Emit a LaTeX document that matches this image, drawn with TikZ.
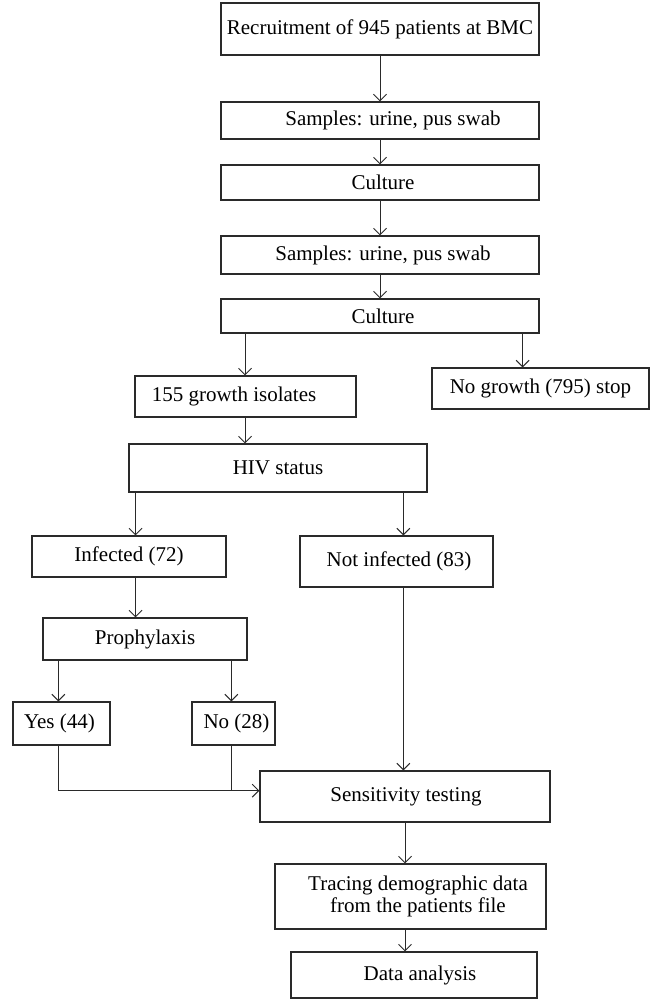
\documentclass[tikz,border=0pt]{standalone}
\usepackage{fontspec}
\setmainfont{Liberation Serif}
\usetikzlibrary{arrows.meta}
\definecolor{ln}{HTML}{2A2A2A}
\begin{document}
\begin{tikzpicture}[x=1pt,y=-1pt,
  box/.style={draw=ln,line width=1.1pt,inner sep=0pt,align=center,
    font=\fontsize{21}{21.5}\selectfont,text=black},
  arr/.style={draw=ln,line width=1pt,-{Straight Barb[length=6.5pt,width=13pt,line width=1pt]}},
  ln/.style={draw=ln,line width=1pt}]
\useasboundingbox (0,0) rectangle (651,999);
\node[box,minimum width=318,minimum height=52] (rec) at (380,29) {Recruitment of 945 patients at BMC};
\node[box,minimum width=318,minimum height=37] (s1) at (380,120.5) {\hspace*{26pt}Samples: urine, pus swab};
\node[box,minimum width=318,minimum height=35] (c1) at (380,182.5) {\hspace*{6pt}Culture};
\node[box,minimum width=318,minimum height=38] (s2) at (380,255) {\hspace*{6pt}Samples: urine, pus swab};
\node[box,minimum width=318,minimum height=34] (c2) at (380,316) {\hspace*{6pt}Culture};
\node[box,minimum width=221,minimum height=41] (g) at (245.5,396.5) {155 growth isolates\hspace*{23pt}};
\node[box,minimum width=217,minimum height=41] (ng) at (540.5,388.5) {No growth (795) stop};
\node[box,minimum width=298,minimum height=48] (hiv) at (278,468) {HIV status};
\node[box,minimum width=194,minimum height=41] (inf) at (129,556.5) {Infected (72)};
\node[box,minimum width=193,minimum height=51] (ninf) at (396.5,561.5) {\hspace*{5pt}Not infected (83)};
\node[box,minimum width=204,minimum height=42] (pro) at (145,639) {Prophylaxis};
\node[box,minimum width=97,minimum height=43] (yes) at (61.5,723.5) {Yes (44)\hspace*{4pt}};
\node[box,minimum width=83,minimum height=43] (no) at (233.5,723.5) {\hspace*{6pt}No (28)};
\node[box,minimum width=290,minimum height=51] (sens) at (405,796.5) {\hspace*{2pt}Sensitivity testing};
\node[box,minimum width=271,minimum height=65] (tr) at (410.5,896.5) {\hspace*{15pt}Tracing demographic data\\\hspace*{15pt}from the patients file};
\node[box,minimum width=246,minimum height=46] (da) at (414,975) {\hspace*{12pt}Data analysis};
% vertical main chain
\draw[arr] (rec) -- (s1);
\draw[arr] (s1) -- (c1);
\draw[arr] (c1) -- (s2);
\draw[arr] (s2) -- (c2);
\coordinate (xg) at (245,0);
\coordinate (xng) at (522.7,0);
\draw[arr] (c2.south -| xg) -- (g.north -| xg);
\draw[arr] (c2.south -| xng) -- (ng.north -| xng);
\draw[arr] (g.south -| xg) -- (hiv.north -| xg);
\coordinate (xinf) at (135.5,0);
\coordinate (xninf) at (403.3,0);
\draw[arr] (hiv.south -| xinf) -- (inf.north -| xinf);
\draw[arr] (hiv.south -| xninf) -- (ninf.north -| xninf);
\draw[arr] (inf.south -| xinf) -- (pro.north -| xinf);
\coordinate (xyes) at (58.3,0);
\coordinate (xno) at (231.3,0);
\draw[arr] (pro.south -| xyes) -- (yes.north -| xyes);
\draw[arr] (pro.south -| xno) -- (no.north -| xno);
\coordinate (yj) at (0,790.7);
\draw[arr] (yes.south -| xyes) -- (xyes |- yj) -- (sens.west |- yj);
\draw[ln] (no.south -| xno) -- (xno |- yj);
\draw[arr] (ninf.south -| xninf) -- (sens.north -| xninf);
\coordinate (xs) at (405,0);
\draw[arr] (sens.south -| xs) -- (tr.north -| xs);
\draw[arr] (tr.south -| xs) -- (da.north -| xs);
\end{tikzpicture}
\end{document}
